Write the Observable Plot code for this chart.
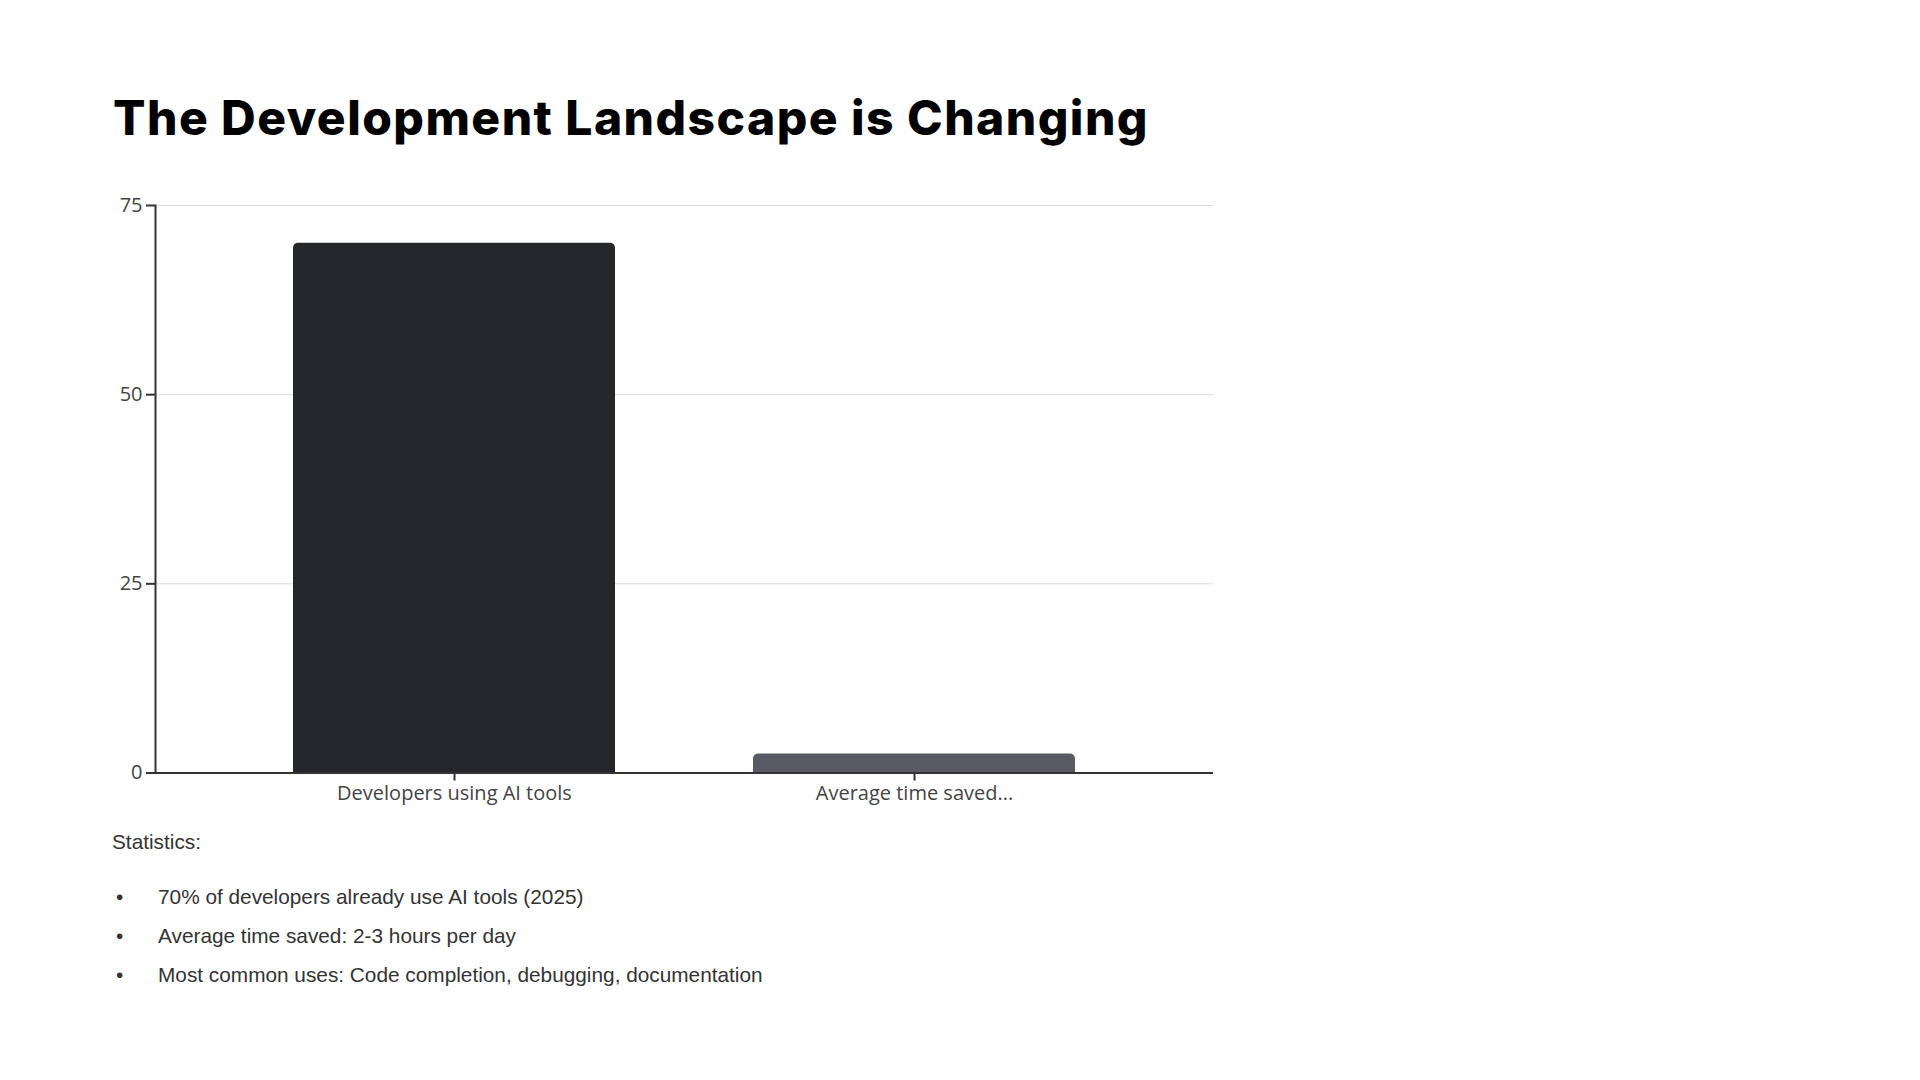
<!DOCTYPE html>
<html>
<head>
<meta charset="utf-8">
<script src="https://cdn.jsdelivr.net/npm/d3@7"></script>
<script src="https://cdn.jsdelivr.net/npm/@observablehq/plot@0.6"></script>
<style>
  html, body { margin: 0; padding: 0; background: #fff; width: 1920px; height: 1080px; overflow: hidden; }
  #title { position: absolute; left: 113px; top: 94px; font-family: Inter, "Open Sans", sans-serif; font-weight: 800; font-size: 48px; line-height: 48px; letter-spacing: 1.45px; color: #000; white-space: nowrap; }
  #chart { position: absolute; left: 0; top: 180px; }
  .stats { position: absolute; font-family: "Liberation Sans", Arial, sans-serif; font-size: 20.8px; color: #333; line-height: 20px; white-space: nowrap; }
</style>
</head>
<body>
<div id="title"></div>
<div id="chart"></div>
<div id="stats"></div>
<script>
const titleText = "The Development Landscape is Changing";
const categories = ["Developers using AI tools", "Average time saved..."];
const values = [70, 2.5];
const barColors = ["#25262b", "#5a5a66"];
const yTicks = [0, 25, 50, 75];
const statsHeading = "Statistics:";
const statsBullets = [
  "70% of developers already use AI tools (2025)",
  "Average time saved: 2-3 hours per day",
  "Most common uses: Code completion, debugging, documentation"
];

document.getElementById("title").textContent = titleText;

const data = categories.map((c, i) => ({category: c, value: values[i], color: barColors[i]}));

const chart = Plot.plot({
  width: 1240,
  height: 640,
  marginLeft: 155,
  marginRight: 27,
  marginTop: 25,
  marginBottom: 47.5,
  style: {fontFamily: "'Open Sans', sans-serif", fontSize: "20px", color: "#444", background: "#fff"},
  x: {domain: categories, padding: 0.3, label: null},
  y: {domain: [0, 75], label: null},
  marks: [
    Plot.gridY(yTicks.filter(d => d > 0), {stroke: "#dcdcdc", strokeOpacity: 1, strokeWidth: 1}),
    Plot.barY(data, {x: "category", y: "value", fill: "color", ry1: 5}),
    Plot.ruleY([0], {stroke: "#333", strokeWidth: 2}),
    Plot.frame({anchor: "left", stroke: "#333", strokeWidth: 2}),
    Plot.axisY({ticks: yTicks, tickSize: 9, tickPadding: 4, stroke: "#333", strokeWidth: 2, fill: "#444", fontSize: 20, label: null}),
    Plot.axisX({tickSize: 8, tickPadding: 5, stroke: "#333", strokeWidth: 2, fill: "#444", fontSize: 20, label: null})
  ]
});
document.getElementById("chart").appendChild(chart);

const stats = document.getElementById("stats");
function addText(txt, x, y) {
  const d = document.createElement("div");
  d.className = "stats";
  d.style.left = x + "px";
  d.style.top = y + "px";
  d.textContent = txt;
  stats.appendChild(d);
}
addText(statsHeading, 112, 832);
statsBullets.forEach((t, i) => {
  const y = 887 + i * 39;
  addText("•", 116, y);
  addText(t, 158, y);
});
</script>
</body>
</html>
